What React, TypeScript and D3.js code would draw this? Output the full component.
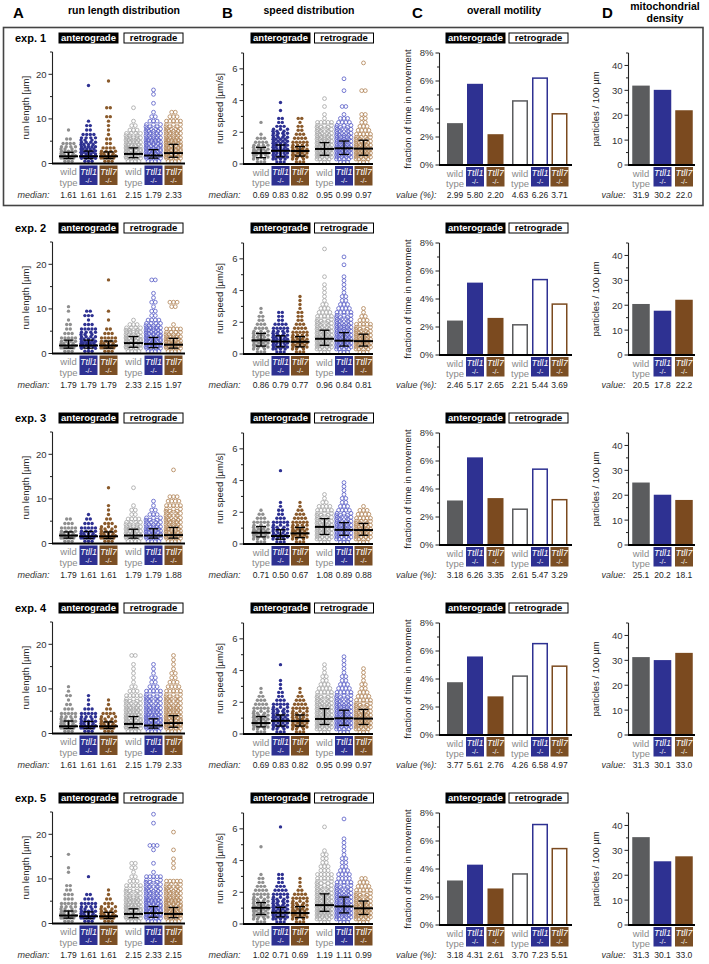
import React from 'react';
import * as d3 from 'd3';

const FONT = "'Liberation Sans', Arial, Helvetica, sans-serif";

const experiments = ['exp. 1', 'exp. 2', 'exp. 3', 'exp. 4', 'exp. 5'];
const genotypes = ['wild type', 'Ttll1', 'Ttll7'];
const directions = ['anterograde', 'retrograde'];
const panelHeaders = ['run length distribution', 'speed distribution', 'overall motility', 'mitochondrial density'];

// ---- A: run length (µm). groups: ant wt, ant Ttll1, ant Ttll7, retro wt, retro Ttll1, retro Ttll7
const runLengthMedians = [
  [1.61, 1.61, 1.61, 2.15, 1.79, 2.33],
  [1.79, 1.79, 1.79, 2.33, 2.15, 1.97],
  [1.79, 1.61, 1.61, 1.79, 1.79, 1.88],
  [1.61, 1.61, 1.61, 2.15, 1.79, 2.33],
  [1.79, 1.61, 1.61, 2.15, 2.33, 2.15],
];
const runLengthQ1 = [
  [1.1, 1.1, 1.1, 1.3, 1.2, 1.4],
  [1.2, 1.2, 1.2, 1.4, 1.3, 1.2],
  [1.2, 1.1, 1.1, 1.2, 1.2, 1.2],
  [1.1, 1.1, 1.1, 1.3, 1.2, 1.4],
  [1.2, 1.1, 1.1, 1.3, 1.4, 1.3],
];
const runLengthQ3 = [
  [2.5, 2.8, 2.6, 3.5, 3.1, 4.3],
  [3.0, 3.0, 2.8, 3.8, 3.6, 3.4],
  [2.6, 2.7, 2.6, 3.2, 3.3, 3.6],
  [2.8, 2.7, 2.6, 3.8, 3.3, 4.0],
  [2.8, 2.6, 2.5, 3.3, 3.8, 3.6],
];
// counts of runs per 1 µm bin
const runLengthCounts = [
  [
    [3, 10, 9, 7, 4, 2, 0, 1],
    [3, 12, 12, 10, 8, 7, 4, 2, 2, 1, 0, 0, 0, 0, 0, 0, 0, 1],
    [3, 10, 8, 4, 2, 2, 1, 1, 1, 1, 2, 0, 2, 0, 0, 0, 0, 0, 1],
    [4, 12, 12, 11, 10, 9, 7, 3, 2, 1, 0, 0, 1],
    [4, 13, 13, 12, 11, 10, 9, 8, 6, 3, 2, 1, 0, 1, 0, 1, 1],
    [4, 12, 12, 12, 11, 10, 9, 8, 6, 5, 3, 2],
  ],
  [
    [3, 10, 8, 5, 3, 2, 2, 1, 0, 1, 1],
    [3, 11, 10, 8, 7, 5, 3, 1, 3, 2],
    [3, 10, 8, 5, 3, 2, 0, 1, 0, 1, 0, 0, 0, 0, 0, 0, 1],
    [4, 12, 12, 11, 9, 7, 3, 1],
    [4, 13, 13, 12, 11, 9, 8, 4, 2, 2, 1, 2, 1, 1, 0, 0, 2],
    [4, 12, 12, 10, 8, 5, 1, 0, 0, 0, 2, 3],
  ],
  [
    [3, 10, 8, 5, 3, 2],
    [3, 10, 8, 5, 3, 2, 1],
    [3, 10, 8, 6, 3, 2, 1, 1, 1, 0, 0, 0, 1],
    [4, 11, 10, 9, 7, 4, 2, 2, 1, 0, 0, 0, 1],
    [4, 12, 11, 10, 8, 6, 3, 2, 1, 1],
    [4, 12, 11, 10, 9, 8, 7, 6, 5, 4, 3, 0, 0, 0, 0, 0, 1],
  ],
  [
    [3, 10, 9, 7, 5, 3, 2, 1, 2, 1, 1],
    [3, 10, 9, 7, 5, 3, 1, 1, 1],
    [3, 10, 8, 6, 4, 2, 1, 1],
    [4, 12, 12, 11, 10, 9, 8, 6, 5, 3, 2, 1, 1, 1, 1, 1, 0, 2],
    [4, 12, 12, 11, 10, 9, 8, 7, 6, 5, 3, 2, 2, 1, 1, 1],
    [4, 12, 12, 11, 10, 9, 8, 7, 6, 5, 4, 3, 2, 2, 1, 1, 1, 1],
  ],
  [
    [3, 10, 9, 7, 5, 3, 3, 2, 2, 0, 0, 1, 1, 0, 0, 1],
    [3, 10, 9, 7, 5, 3, 2, 0, 0, 0, 1],
    [3, 10, 8, 6, 3, 2, 1, 1],
    [4, 12, 12, 11, 10, 9, 7, 6, 5, 3, 2, 1, 2, 2],
    [4, 13, 13, 12, 11, 10, 9, 8, 7, 6, 5, 1, 0, 1, 0, 0, 1, 3, 0, 0, 0, 0, 1, 0, 1],
    [4, 13, 13, 12, 11, 10, 9, 8, 7, 5, 0, 0, 1, 1, 1, 0, 1, 0, 0, 0, 1],
  ],
];

// ---- B: run speed (µm/s)
const speedMedians = [
  [0.69, 0.83, 0.82, 0.95, 0.99, 0.97],
  [0.86, 0.79, 0.77, 0.96, 0.84, 0.81],
  [0.71, 0.50, 0.67, 1.08, 0.89, 0.88],
  [0.69, 0.83, 0.82, 0.95, 0.99, 0.97],
  [1.02, 0.71, 0.69, 1.19, 1.11, 0.99],
];
const speedQ1 = [
  [0.4, 0.45, 0.5, 0.55, 0.6, 0.55],
  [0.5, 0.45, 0.45, 0.55, 0.5, 0.5],
  [0.45, 0.3, 0.4, 0.6, 0.55, 0.55],
  [0.45, 0.5, 0.5, 0.6, 0.55, 0.6],
  [0.6, 0.45, 0.4, 0.8, 0.7, 0.6],
];
const speedQ3 = [
  [1.05, 1.2, 1.1, 1.35, 1.45, 1.5],
  [1.3, 1.15, 1.1, 1.5, 1.35, 1.25],
  [1.1, 0.9, 1.05, 1.6, 1.35, 1.3],
  [1.1, 1.2, 1.2, 1.6, 1.5, 1.55],
  [1.35, 1.05, 1.1, 1.9, 1.7, 1.45],
];
// counts per 0.25 µm/s bin
const speedCounts = [
  [
    [3, 6, 8, 8, 7, 4, 3, 1, 0, 0, 1],
    [3, 8, 9, 9, 9, 8, 8, 7, 6, 3, 2, 2, 0, 1, 0, 1],
    [3, 7, 8, 8, 7, 5, 4, 3, 2, 2, 1, 2],
    [3, 8, 10, 10, 10, 9, 9, 8, 7, 6, 5, 1, 1, 0, 1, 0, 1],
    [3, 8, 10, 10, 10, 9, 9, 8, 7, 6, 4, 3, 1, 0, 2, 0, 0, 0, 1, 0, 0, 1],
    [3, 8, 10, 10, 9, 8, 7, 5, 4, 3, 2, 2, 2, 0, 0, 0, 0, 0, 2, 0, 0, 0, 0, 0, 0, 1],
  ],
  [
    [3, 7, 8, 8, 7, 6, 4, 3, 2, 2, 1, 1],
    [3, 8, 9, 9, 8, 7, 5, 4, 2, 2, 2],
    [3, 7, 8, 8, 7, 5, 4, 3, 2, 2, 2, 1, 1, 1, 1],
    [3, 8, 10, 10, 10, 9, 8, 7, 6, 5, 4, 3, 2, 1, 1, 1, 1, 1, 0, 1, 0, 0, 0, 0, 0, 0, 1],
    [3, 8, 10, 10, 10, 9, 9, 8, 7, 6, 5, 4, 3, 2, 2, 1, 1, 1, 1, 1, 0, 0, 1, 0, 1],
    [3, 8, 10, 10, 9, 8, 6, 5, 3, 2, 1, 1],
  ],
  [
    [3, 7, 8, 8, 6, 5, 3, 2, 1],
    [3, 7, 8, 7, 6, 5, 3, 2, 2, 1, 1, 0, 0, 0, 0, 0, 0, 0, 1],
    [3, 7, 8, 8, 7, 5, 4, 3, 2, 1, 1],
    [3, 8, 9, 9, 9, 8, 7, 6, 5, 4, 2, 1, 1],
    [3, 8, 9, 9, 9, 8, 7, 6, 4, 3, 2, 2, 1, 1, 1, 1],
    [3, 8, 9, 9, 8, 7, 5, 4, 3, 1],
  ],
  [
    [3, 7, 8, 8, 8, 6, 5, 4, 3, 2, 1, 1],
    [3, 7, 8, 8, 8, 7, 6, 5, 3, 2, 2, 1, 1, 1, 0, 0, 0, 1],
    [3, 7, 8, 8, 7, 6, 5, 4, 3, 2, 1, 1],
    [3, 8, 10, 10, 10, 9, 9, 8, 7, 6, 5, 4, 3, 2, 2, 1, 1, 1],
    [3, 8, 10, 10, 10, 9, 9, 8, 7, 6, 5, 4, 3, 2, 2, 1, 1, 1, 1, 1],
    [3, 8, 10, 10, 9, 8, 7, 6, 5, 4, 3, 2, 2, 1, 1, 1, 1],
  ],
  [
    [3, 7, 8, 8, 8, 7, 6, 5, 4, 3, 2, 2, 1, 0, 0, 0, 0, 0, 0, 1],
    [3, 8, 8, 8, 8, 7, 6, 5, 4, 3, 2, 2, 2, 0, 0, 0, 0, 0, 0, 0, 0, 0, 0, 0, 1],
    [3, 7, 8, 8, 7, 6, 5, 4, 2, 1, 1, 1],
    [3, 8, 10, 10, 10, 9, 9, 8, 7, 6, 6, 5, 5, 3, 3, 2, 2, 2, 1, 0, 0, 0, 0, 0, 1],
    [3, 8, 10, 10, 10, 9, 9, 8, 7, 6, 5, 4, 4, 3, 2, 2, 2, 1, 1, 1, 1, 1, 0, 0, 0, 0, 1],
    [3, 8, 10, 10, 9, 8, 7, 6, 5, 4, 3, 2],
  ],
];

// ---- C: fraction of time in movement (%)
const motilityValues = [
  [2.99, 5.80, 2.20, 4.63, 6.26, 3.71],
  [2.46, 5.17, 2.65, 2.21, 5.44, 3.69],
  [3.18, 6.26, 3.35, 2.61, 5.47, 3.29],
  [3.77, 5.61, 2.76, 4.26, 6.58, 4.97],
  [3.18, 4.31, 2.61, 3.70, 7.23, 5.51],
];

// ---- D: particles / 100 µm (bar heights and printed values)
const densityBars = [
  [31.9, 30.2, 22.0],
  [20.5, 17.8, 22.2],
  [25.1, 20.2, 18.1],
  [31.3, 30.1, 33.0],
  [35.3, 25.6, 27.6],
];
const densityLabels = [
  [31.9, 30.2, 22.0],
  [20.5, 17.8, 22.2],
  [25.1, 20.2, 18.1],
  [31.3, 30.1, 33.0],
  [31.3, 30.1, 33.0],
];

const ROW_H = 190;
const dotFill = ['#8f8f8f', '#2e3192', '#8a5a2b'];
const dotStroke = ['#a9a9a9', '#5f63c9', '#b3885c'];
const boxFill = ['none', '#2e3192', '#7b4f25'];
const barFill = ['#5b5c5e', '#2e3192', '#7b4a1f'];

type Geom = {
  axisX: number; y0: number; yTop: number; max: number;
  major: number[]; minor: number[]; fmt: (v: number) => string;
  xs: number[]; xEnd: number; title: string; titleDx: number; valueName: string;
};

const geomA: Geom = {
  axisX: 52.5, y0: 163.5, yTop: 52, max: 25, major: [0, 10, 20], minor: [5, 15, 25],
  fmt: (v) => String(v), xs: [68.5, 88.5, 108.5, 133.5, 153.5, 173.5], xEnd: 185,
  title: 'run length [µm]', titleDx: 24, valueName: 'median:',
};
const geomB: Geom = {
  axisX: 243.5, y0: 164, yTop: 53, max: 7, major: [0, 2, 4, 6], minor: [1, 3, 5, 7],
  fmt: (v) => String(v), xs: [261, 280.5, 300, 324.5, 344, 363.5], xEnd: 373,
  title: 'run speed [µm/s]', titleDx: 21, valueName: 'median:',
};
const geomC: Geom = {
  axisX: 439.5, y0: 165, yTop: 53, max: 8, major: [0, 2, 4, 6, 8], minor: [1, 3, 5, 7],
  fmt: (v) => `${v}%`, xs: [455, 475, 495.5, 520, 540, 559.5], xEnd: 572,
  title: 'fraction of time in movement', titleDx: 29, valueName: 'value (%):',
};
const geomD: Geom = {
  axisX: 628.5, y0: 165, yTop: 53, max: 45, major: [0, 10, 20, 30, 40], minor: [5, 15, 25, 35, 45],
  fmt: (v) => String(v), xs: [641, 662.5, 684], xEnd: 695,
  title: 'particles / 100 µm', titleDx: 30, valueName: 'value:',
};

function Axes({ g, oy, y }: { g: Geom; oy: number; y: d3.ScaleLinear<number, number> }) {
  const cy = (g.y0 + g.yTop) / 2 + oy;
  return (
    <g>
      <line x1={g.axisX} x2={g.axisX} y1={y(0)} y2={y(g.max)} stroke="#222" strokeWidth={1.1} />
      {g.major.map((v) => (
        <g key={'M' + v}>
          <line x1={g.axisX - 4} x2={g.axisX} y1={y(v)} y2={y(v)} stroke="#222" strokeWidth={1} />
          <text x={g.axisX - 6} y={y(v) + 3.4} textAnchor="end" fontSize={9.5} fill="#333">{g.fmt(v)}</text>
        </g>
      ))}
      {g.minor.map((v) => (
        <line key={'m' + v} x1={g.axisX - 2.5} x2={g.axisX} y1={y(v)} y2={y(v)} stroke="#222" strokeWidth={1} />
      ))}
      <text transform={`translate(${g.axisX - g.titleDx},${cy}) rotate(-90)`} textAnchor="middle" fontSize={9.5} fill="#222">{g.title}</text>
      <line x1={g.axisX - 0.5} x2={g.xEnd} y1={y(0)} y2={y(0)} stroke="#000" strokeWidth={2.2} />
    </g>
  );
}

function GroupLabels({ g, oy, values, digits }: { g: Geom; oy: number; values: number[]; digits: number }) {
  const top = g.y0 + oy + 2;
  const base = 197.5 + oy;
  return (
    <g>
      {g.xs.map((cx, i) => {
        const gi = i % 3;
        return (
          <g key={i}>
            {gi === 0 ? (
              <g fill="#8a8a8a" fontSize={9.5} textAnchor="middle">
                <text x={cx} y={top + 9.5}>wild</text>
                <text x={cx} y={top + 20}>type</text>
              </g>
            ) : (
              <g>
                <rect x={cx - 9} y={top} width={18} height={19.5} fill={boxFill[gi]} />
                <text x={cx} y={top + 9} textAnchor="middle" fontSize={9} fontStyle="italic" fill="#fff">{genotypes[gi]}</text>
                <text x={cx} y={top + 17} textAnchor="middle" fontSize={7} fill="#fff">-/-</text>
              </g>
            )}
            <text x={cx} y={base} textAnchor="middle" fontSize={8.5} fill="#222">{values[i].toFixed(digits)}</text>
          </g>
        );
      })}
      <text x={g.axisX - 3} y={base} textAnchor="end" fontSize={9} fontStyle="italic" fill="#333">{g.valueName}</text>
    </g>
  );
}

function DirBoxes({ cxAnt, cxRet, oy }: { cxAnt: number; cxRet: number; oy: number }) {
  const y = 32.5 + oy;
  return (
    <g fontWeight="bold" fontSize={9.5} textAnchor="middle">
      <rect x={cxAnt - 30} y={y} width={60} height={11} fill="#000" />
      <text x={cxAnt} y={y + 8.8} fill="#fff">{directions[0]}</text>
      <rect x={cxRet - 29.5} y={y + 0.5} width={59} height={10} fill="#fff" stroke="#000" strokeWidth={1} />
      <text x={cxRet} y={y + 8.8} fill="#000">{directions[1]}</text>
    </g>
  );
}

function swarmPoints(counts: number[], binW: number, y: d3.ScaleLinear<number, number>, cx: number) {
  const pts: [number, number][] = [];
  const binPx = Math.abs(y(0) - y(binW));
  const half = 7;
  counts.forEach((n, k) => {
    if (!n) return;
    const yc = y((k + 0.5) * binW);
    const perRow = 5;
    const rows = Math.ceil(n / perRow);
    let placed = 0;
    for (let r = 0; r < rows; r++) {
      const m = Math.ceil((n - placed) / (rows - r));
      const sp = m > 1 ? (rows > 1 ? (2 * half) / (m - 1) : Math.min(3.6, (2 * half) / (m - 1))) : 0;
      const yy = yc + ((r + 0.5) / rows - 0.5) * binPx;
      const stag = rows > 1 && r % 2 === 1 ? sp / 2 : 0;
      for (let j = 0; j < m; j++) {
        let dx = (j - (m - 1) / 2) * sp + stag;
        if (dx > half + 0.5) dx -= sp * m;
        dx = Math.max(-half - 0.5, Math.min(half + 0.5, dx));
        pts.push([cx + dx, yy]);
      }
      placed += m;
    }
  });
  return pts;
}

function SwarmPanel({ g, oy, counts, binW, med, q1, q3 }: {
  g: Geom; oy: number; counts: number[][]; binW: number; med: number[]; q1: number[]; q3: number[];
}) {
  const y = d3.scaleLinear().domain([0, g.max]).range([g.y0 + oy, g.yTop + oy]);
  return (
    <g>
      {counts.map((c, i) => {
        const gi = i % 3;
        const retro = i >= 3;
        const pts = swarmPoints(c, binW, y, g.xs[i]);
        return (
          <g key={i}>
            {pts.map((p, j) =>
              retro ? (
                <circle key={j} cx={p[0]} cy={p[1]} r={1.9} fill="none" stroke={dotStroke[gi]} strokeWidth={0.85} />
              ) : (
                <circle key={j} cx={p[0]} cy={p[1]} r={1.7} fill={dotFill[gi]} />
              )
            )}
          </g>
        );
      })}
      {g.xs.map((cx, i) => (
        <g key={'e' + i} stroke="#000">
          <line x1={cx} x2={cx} y1={y(q1[i])} y2={y(q3[i])} strokeWidth={1.3} />
          <line x1={cx - 5} x2={cx + 5} y1={y(q1[i])} y2={y(q1[i])} strokeWidth={1.3} />
          <line x1={cx - 5} x2={cx + 5} y1={y(q3[i])} y2={y(q3[i])} strokeWidth={1.3} />
          <line x1={cx - 9.5} x2={cx + 9.5} y1={y(med[i])} y2={y(med[i])} strokeWidth={2} />
        </g>
      ))}
      <Axes g={g} oy={oy} y={y} />
      <GroupLabels g={g} oy={oy} values={med} digits={2} />
    </g>
  );
}

function MotilityPanel({ oy, values }: { oy: number; values: number[] }) {
  const g = geomC;
  const y = d3.scaleLinear().domain([0, g.max]).range([g.y0 + oy, g.yTop + oy]);
  const bw = 16;
  return (
    <g>
      {values.map((v, i) => {
        const gi = i % 3;
        const cx = g.xs[i];
        return i < 3 ? (
          <rect key={i} x={cx - bw / 2} y={y(v)} width={bw} height={y(0) - y(v)} fill={barFill[gi]} />
        ) : (
          <rect key={i} x={cx - bw / 2 + 0.75} y={y(v) + 0.75} width={bw - 1.5} height={y(0) - y(v) - 0.75}
            fill="#fff" stroke={barFill[gi]} strokeWidth={1.5} />
        );
      })}
      <Axes g={g} oy={oy} y={y} />
      <GroupLabels g={g} oy={oy} values={values} digits={2} />
    </g>
  );
}

function DensityPanel({ oy, bars, labels }: { oy: number; bars: number[]; labels: number[] }) {
  const g = geomD;
  const y = d3.scaleLinear().domain([0, g.max]).range([g.y0 + oy, g.yTop + oy]);
  const bw = 17.5;
  return (
    <g>
      {bars.map((v, i) => (
        <rect key={i} x={g.xs[i] - bw / 2} y={y(v)} width={bw} height={y(0) - y(v)} fill={barFill[i]} />
      ))}
      <Axes g={g} oy={oy} y={y} />
      <GroupLabels g={g} oy={oy} values={labels} digits={1} />
    </g>
  );
}

export default function App() {
  return (
    <svg width={709} height={964} viewBox="0 0 709 964" fontFamily={FONT}
      style={{ position: 'absolute', left: 0, top: 0, background: '#fff' }}>
      <rect x={0} y={0} width={709} height={964} fill="#fff" />
      {/* panel letters and headers */}
      <g fontWeight="bold" fill="#000">
        <text x={13} y={18} fontSize={15}>A</text>
        <text x={124} y={13.5} fontSize={10.5} textAnchor="middle">{panelHeaders[0]}</text>
        <text x={222} y={18} fontSize={15}>B</text>
        <text x={309} y={13.5} fontSize={10.5} textAnchor="middle">{panelHeaders[1]}</text>
        <text x={412} y={18} fontSize={15}>C</text>
        <text x={504} y={13.5} fontSize={10.5} textAnchor="middle">{panelHeaders[2]}</text>
        <text x={602} y={18} fontSize={15}>D</text>
        <text x={665} y={9.5} fontSize={10.5} textAnchor="middle">mitochondrial</text>
        <text x={665} y={22} fontSize={10.5} textAnchor="middle">density</text>
      </g>
      <rect x={3.5} y={27.5} width={699.5} height={178} fill="none" stroke="#444" strokeWidth={1.6} />
      {experiments.map((ex, r) => {
        const oy = r * ROW_H;
        return (
          <g key={ex}>
            <text x={15} y={41.5 + oy} fontSize={11} fontWeight="bold">{ex}</text>
            <DirBoxes cxAnt={geomA.xs[1]} cxRet={geomA.xs[4]} oy={oy} />
            <DirBoxes cxAnt={geomB.xs[1]} cxRet={geomB.xs[4]} oy={oy} />
            <DirBoxes cxAnt={475.5} cxRet={538.5} oy={oy} />
            <SwarmPanel g={geomA} oy={oy} counts={runLengthCounts[r]} binW={1}
              med={runLengthMedians[r]} q1={runLengthQ1[r]} q3={runLengthQ3[r]} />
            <SwarmPanel g={geomB} oy={oy} counts={speedCounts[r]} binW={0.25}
              med={speedMedians[r]} q1={speedQ1[r]} q3={speedQ3[r]} />
            <MotilityPanel oy={oy} values={motilityValues[r]} />
            <DensityPanel oy={oy} bars={densityBars[r]} labels={densityLabels[r]} />
          </g>
        );
      })}
    </svg>
  );
}
